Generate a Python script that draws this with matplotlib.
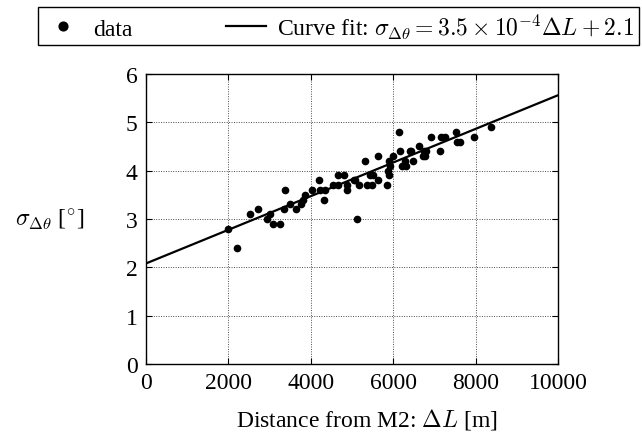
import numpy as np
import matplotlib
matplotlib.use('Agg')
import matplotlib.pyplot as plt

plt.rcParams['font.family'] = 'Liberation Serif'
plt.rcParams['mathtext.fontset'] = 'cm'

# measured points: distance [m], sigma [deg]
dist = [2000, 2200, 2530, 2710, 2930, 3010, 3090, 3250, 3380, 3360, 3500, 3630,
        3770, 3820, 3860, 4020, 4200, 4230, 4310, 4350, 4530, 4650, 4670, 4810,
        4870, 4890, 5040, 5080, 5130, 5160, 5320, 5360, 5480, 5440, 5520, 5620,
        5640, 5850, 5870, 5910, 5890, 5930, 5990, 6130, 6170, 6210, 6320, 6290,
        6400, 6440, 6470, 6630, 6740, 6800, 6720, 6780, 6920, 7130, 7170, 7260,
        7530, 7550, 7610, 7950, 8370]
sigma = [2.8, 2.4, 3.1, 3.2, 3.0, 3.1, 2.9, 2.9, 3.6, 3.2, 3.3, 3.2,
         3.3, 3.4, 3.5, 3.6, 3.8, 3.6, 3.4, 3.6, 3.7, 3.9, 3.7, 3.9,
         3.7, 3.6, 3.8, 3.8, 3.0, 3.7, 4.2, 3.7, 3.7, 3.9, 3.9, 4.3,
         3.8, 3.7, 4.0, 3.9, 4.2, 4.1, 4.3, 4.8, 4.4, 4.1, 4.1, 4.2,
         4.4, 4.4, 4.2, 4.5, 4.4, 4.4, 4.3, 4.3, 4.7, 4.4, 4.7, 4.7,
         4.8, 4.6, 4.6, 4.7, 4.9]

slope = 3.48e-4
icpt = 2.08
xfit = np.array([0, 10000])
yfit = slope*xfit + icpt

fs = 17

fig = plt.figure(figsize=(6.42, 4.39), dpi=100)
ax = fig.add_axes([0.2274, 0.1686, 0.6417, 0.6606])

pts, = ax.plot(dist, sigma, 'o', color='black', ms=4.5, label='data')
ln, = ax.plot(xfit, yfit, '-', color='black', lw=1.6,
              label=r'Curve fit: $\sigma_{\Delta\theta} = 3.5\times10^{-4}\Delta L + 2.1$')

ax.set_xlim(0, 10000)
ax.set_ylim(0, 6)
ax.set_xticks([0, 2000, 4000, 6000, 8000, 10000])
ax.set_yticks([0, 1, 2, 3, 4, 5, 6])
ax.grid(True, linestyle=(0, (1, 1.5)), color='0.3', lw=0.7)
ax.tick_params(direction='in', top=True, right=True, labelsize=fs, length=4, pad=6)
for s in ax.spines.values():
    s.set_linewidth(1.0)

ax.set_xlabel(r'Distance from M2: $\Delta L$ [m]', fontsize=fs)
ax.xaxis.set_label_coords(0.535, -0.145)
ax.set_ylabel(r'$\sigma_{\Delta\theta}$ [$^{\circ}$]', fontsize=fs, rotation=0, va='center')
ax.yaxis.set_label_coords(-0.235, 0.5)

leg = fig.legend(handles=[pts, ln], loc='upper center', bbox_to_anchor=(0.527, 0.982),
                 ncol=2, fontsize=fs, frameon=True, fancybox=False, edgecolor='black',
                 framealpha=1, handlelength=1.7, handletextpad=0.45, columnspacing=3.95,
                 numpoints=1, markerscale=1.4, borderpad=0.2, borderaxespad=0)
leg.get_frame().set_linewidth(1.0)

fig.savefig('out.png', dpi=100)
